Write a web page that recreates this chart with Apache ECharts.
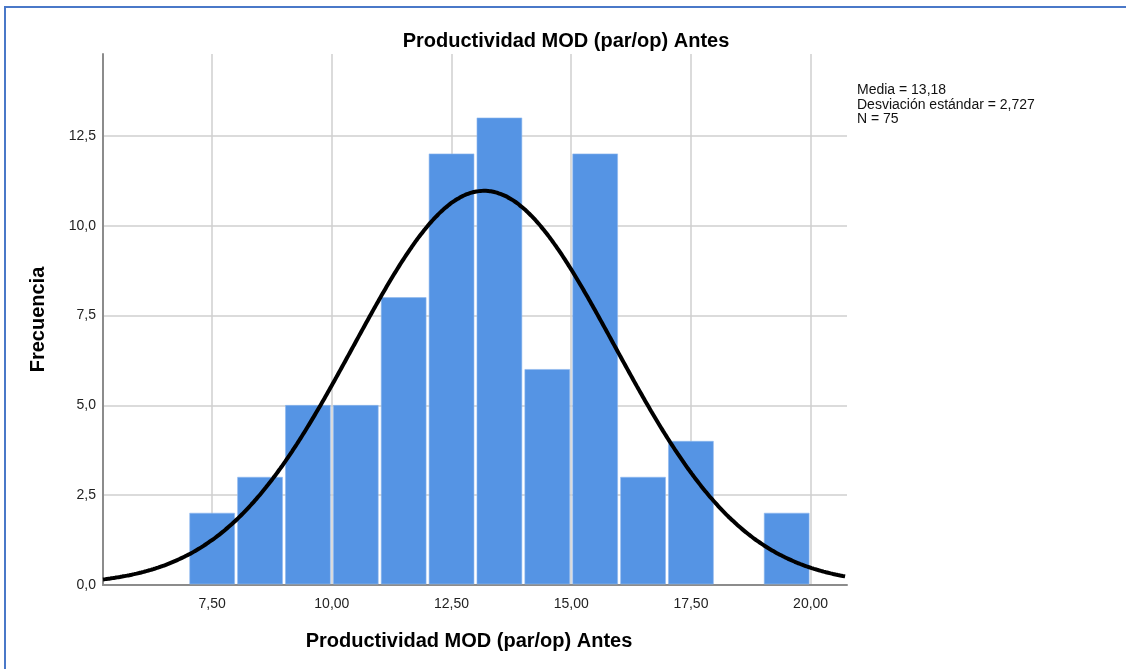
<!DOCTYPE html>
<html>
<head>
<meta charset="utf-8">
<script src="https://cdn.jsdelivr.net/npm/echarts@6/dist/echarts.min.js"></script>
<style>
    html, body { margin: 0; padding: 0; background: #fff; }
    #frame {
        position: absolute; left: 4px; top: 6px; width: 1200px; height: 700px;
        border-top: 2px solid #4a78c8; border-left: 2px solid #4a78c8;
    }
    #main { position: absolute; left: 0; top: 0; width: 1126px; height: 669px; }
</style>
</head>
<body>
<div id="frame"></div>
<div id="main"></div>
<script>
    // bins of width 1, starting at binStart
    var binStart = [7, 8, 9, 10, 11, 12, 13, 14, 15, 16, 17, 18, 19];
    var counts = [2, 3, 5, 5, 8, 12, 13, 6, 12, 3, 4, 0, 2];
    var xTicks = [7.5, 10, 12.5, 15, 17.5, 20];
    var yTicks = [0, 2.5, 5, 7.5, 10, 12.5];
    var media = 13.18;
    var desv = 2.727;
    var n = 75;

    var chart = echarts.init(document.getElementById('main'));

    var bars = [];
    binStart.forEach(function (s, i) {
        if (counts[i] > 0) bars.push([s, s + 1, counts[i]]);
    });

    // normal curve scaled to counts (bin width 1)
    var xMin = 5.22, xMax = 20.76;
    var curve = [];
    for (var x = xMin; x <= xMax + 0.001; x += 0.05) {
        var z = (x - media) / desv;
        curve.push([x, n / (desv * Math.sqrt(2 * Math.PI)) * Math.exp(-0.5 * z * z)]);
    }

    var option = {
        animation: false,
        textStyle: { fontFamily: 'Liberation Sans, Arial, sans-serif' },
        title: {
            text: 'Productividad MOD (par/op) Antes',
            left: 561, top: 26, textAlign: 'center',
            textStyle: { fontSize: 20, fontWeight: 'bold', color: '#000', fontFamily: 'Liberation Sans, Arial, sans-serif' }
        },
        grid: { left: 103, right: 279, top: 54, bottom: 84 },
        xAxis: {
            type: 'value', min: xMin, max: xMax,
            name: 'Productividad MOD (par/op) Antes',
            nameLocation: 'middle', nameGap: 46,
            nameTextStyle: { fontSize: 20, fontWeight: 'bold', color: '#000', padding: [0, 12, 0, 0] },
            axisLine: { lineStyle: { color: '#8c8c8c', width: 2 } },
            axisTick: { show: false, customValues: xTicks },
            axisLabel: {
                customValues: xTicks, color: '#222', fontSize: 14, margin: 12,
                formatter: function (v) { return v.toFixed(2).replace('.', ','); }
            },
            splitLine: { show: true, lineStyle: { color: '#cfcfcf', width: 1.5 } }
        },
        yAxis: {
            type: 'value', min: 0, max: 14.78,
            name: 'Frecuencia',
            nameLocation: 'middle', nameGap: 55, nameRotate: 90,
            nameTextStyle: { fontSize: 20, fontWeight: 'bold', color: '#000' },
            axisLine: { show: true, lineStyle: { color: '#8c8c8c', width: 2 } },
            axisTick: { show: false, customValues: yTicks },
            axisLabel: {
                customValues: yTicks, color: '#222', fontSize: 14, margin: 7,
                formatter: function (v) { return v.toFixed(1).replace('.', ','); }
            },
            splitLine: { show: true, lineStyle: { color: '#cfcfcf', width: 1.5 } }
        },
        graphic: [{
            type: 'text', left: 857, top: 83,
            style: {
                text: 'Media = ' + media.toFixed(2).replace('.', ',') +
                    '\nDesviación estándar = ' + desv.toFixed(3).replace('.', ',') +
                    '\nN = ' + n,
                fontSize: 14, lineHeight: 14.5, fill: '#111',
                fontFamily: 'Liberation Sans, Arial, sans-serif'
            }
        }],
        series: [
            {
                type: 'custom',
                data: bars,
                renderItem: function (params, api) {
                    var p0 = api.coord([api.value(0), api.value(2)]);
                    var p1 = api.coord([api.value(1), 0]);
                    return {
                        type: 'rect',
                        shape: { x: p0[0] + 1.5, y: p0[1], width: p1[0] - p0[0] - 3, height: p1[1] - p0[1] - 1 },
                        style: { fill: '#5594e4', stroke: '#8fb8ee', lineWidth: 0.6 }
                    };
                },
                z: 2
            },
            {
                type: 'line',
                data: curve,
                showSymbol: false,
                smooth: true,
                lineStyle: { color: '#000', width: 4 },
                z: 3
            }
        ]
    };

    chart.setOption(option);
</script>
</body>
</html>
